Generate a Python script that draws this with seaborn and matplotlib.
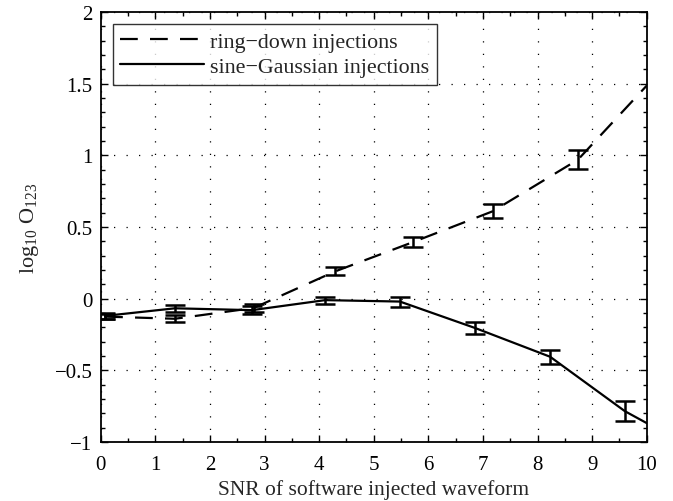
import numpy as np
import pandas as pd
import matplotlib
matplotlib.use("Agg")
import matplotlib.pyplot as plt
import seaborn as sns
from matplotlib.ticker import MultipleLocator

# ---- data ----
rd_snr = [0.08, 1.36, 2.80, 4.29, 5.72, 7.18, 8.74, 10.30]
rd_val = [-0.125, -0.14, -0.065, 0.19, 0.395, 0.61, 0.97, 1.61]
rd_err = [0.02, 0.023, 0.025, 0.028, 0.035, 0.05, 0.065, 0.07]

sg_snr = [0.08, 1.36, 2.77, 4.11, 5.48, 6.86, 8.23, 9.60, 10.97]
sg_val = [-0.12, -0.067, -0.08, -0.01, -0.02, -0.205, -0.405, -0.785, -1.07]
sg_err = [0.02, 0.025, 0.03, 0.025, 0.035, 0.04, 0.05, 0.07, 0.07]

labels = ["ring\u2212down injections", "sine\u2212Gaussian injections"]
xlabel = "SNR of software injected waveform"
ylabel = r"log$_{10}$ O$_{123}$"
yticklabels = ["\u22121", "\u22120.5", "0", "0.5", "1", "1.5", "2"]

sns.set_theme(style="ticks")
plt.rcParams["font.family"] = ["Liberation Serif", "DejaVu Serif"]
plt.rcParams["mathtext.fontset"] = "custom"
plt.rcParams["mathtext.rm"] = "Liberation Serif"
plt.rcParams["mathtext.it"] = "Liberation Serif:italic"
plt.rcParams["axes.unicode_minus"] = True

fig = plt.figure(figsize=(6.73, 5.02), dpi=100)
ax = fig.add_axes([0.1496, 0.1175, 0.8114, 0.8565])

rd = pd.DataFrame({"snr": rd_snr, "val": rd_val, "err": rd_err})
sg = pd.DataFrame({"snr": sg_snr, "val": sg_val, "err": sg_err})

lw = 1.6
dash = (8, 5.5)
sns.lineplot(data=rd, x="snr", y="val", ax=ax, color="black", lw=lw,
             label=labels[0], sort=False)
ax.lines[-1].set_dashes(dash)
sns.lineplot(data=sg, x="snr", y="val", ax=ax, color="black", lw=lw,
             label=labels[1], sort=False)

for df in (rd, sg):
    d = df[df["snr"] <= 10]
    ax.errorbar(d["snr"], d["val"], yerr=d["err"], fmt="none",
                ecolor="black", elinewidth=1.8, capsize=7, capthick=1.8)

ax.set_xlim(0, 10)
ax.set_ylim(-1, 2)
ax.xaxis.set_major_locator(MultipleLocator(1))
ax.xaxis.set_minor_locator(MultipleLocator(0.5))
ax.yaxis.set_minor_locator(MultipleLocator(0.1))
ax.set_yticks(np.arange(-1, 2.01, 0.5))
ax.set_yticklabels(yticklabels)

ax.tick_params(which="both", direction="in", top=True, right=True,
               labelsize=15, colors="black", width=1.0)
ax.tick_params(axis="x", pad=9)
ax.tick_params(axis="y", pad=6)
ax.tick_params(which="major", length=5)
ax.tick_params(which="minor", length=3)
for s in ax.spines.values():
    s.set_linewidth(1.3)
    s.set_color("black")

ax.grid(True, which="major", linestyle=(0, (1, 9)), color="black", lw=0.9)
ax.set_xlabel(xlabel, fontsize=15.5, labelpad=4)
ax.set_ylabel(ylabel, fontsize=16, labelpad=10)

leg = ax.legend(loc="upper left", fontsize=15.8, handlelength=3.8,
                frameon=True, fancybox=False, borderaxespad=0.55,
                borderpad=0.35, labelspacing=0.2, handletextpad=0.3)
leg.get_frame().set_edgecolor("black")
leg.get_frame().set_linewidth(1.0)
for h in leg.get_lines():
    h.set_linewidth(lw)
leg.get_lines()[0].set_dashes(dash)

fig.savefig("out.png", dpi=100)
